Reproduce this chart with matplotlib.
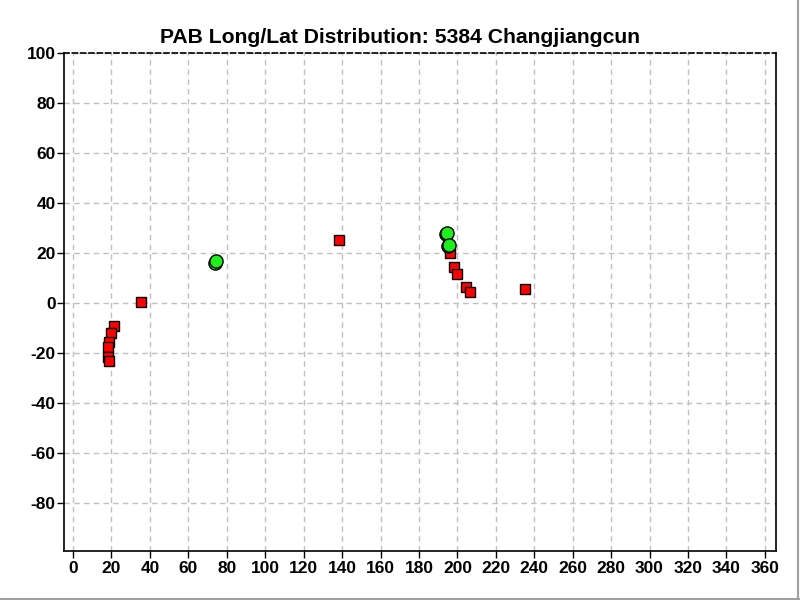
import matplotlib
matplotlib.use("Agg")
import matplotlib.pyplot as plt
import numpy as np

plt.rcParams['font.family'] = ['Liberation Sans', 'DejaVu Sans']
plt.rcParams['axes.unicode_minus'] = False

title = "PAB Long/Lat Distribution: 5384 Changjiangcun"

# red squares
sq_lon = [35.5, 21.3, 19.9, 18.9, 18.4, 18.4, 18.9, 138.4,
          196.1, 198.4, 200.0, 204.6, 206.7, 235.3]
sq_lat = [0.5, -9.2, -12.1, -15.7, -17.5, -21.7, -23.3, 25.2,
          19.9, 14.3, 11.5, 6.3, 4.4, 5.5]

# green circles
ci_lon = [74.0, 74.6, 194.2, 194.6, 195.0, 195.4]
ci_lat = [16.0, 16.6, 27.5, 28.0, 22.7, 23.2]

fig = plt.figure(figsize=(8, 6), dpi=100)
ax = fig.add_axes([0.08, 0.0817, 0.89, 0.83])

ax.plot(sq_lon, sq_lat, 's', color='#ff0000', markeredgecolor='black',
        markeredgewidth=1.0, markersize=7, zorder=3)
ax.plot(ci_lon, ci_lat, 'o', color='#1ef01e', markeredgecolor='black',
        markeredgewidth=1.0, markersize=9.5, zorder=4)

ax.set_xlim(-4.7, 365.8)
ax.set_ylim(-99.2, 100)
ax.set_xticks(np.arange(0, 361, 20))
ax.set_yticks(np.arange(-80, 101, 20))
ax.grid(True, linestyle=(0, (4, 3)), color='#c0c0c0', linewidth=1.0)
ax.set_axisbelow(True)

for lab in ax.get_xticklabels() + ax.get_yticklabels():
    lab.set_fontweight('bold')
ax.tick_params(axis='both', labelsize=12.5, length=5, width=1, direction='out')
ax.tick_params(axis='x', pad=2)
ax.tick_params(axis='y', pad=1)

ax.spines['top'].set_linestyle((0, (3, 2)))
for s in ax.spines.values():
    s.set_linewidth(1.2)

fig.suptitle(title, x=0.5, y=0.953, fontsize=15.2, fontweight='bold')

# outer frame lines at right and bottom edge
fig.add_artist(plt.Line2D([0.9975, 0.9975], [0, 1], color='#a0a0a0', linewidth=1.5))
fig.add_artist(plt.Line2D([0, 1], [0.0025, 0.0025], color='#a0a0a0', linewidth=1.5))

fig.savefig("out.png", dpi=100)
